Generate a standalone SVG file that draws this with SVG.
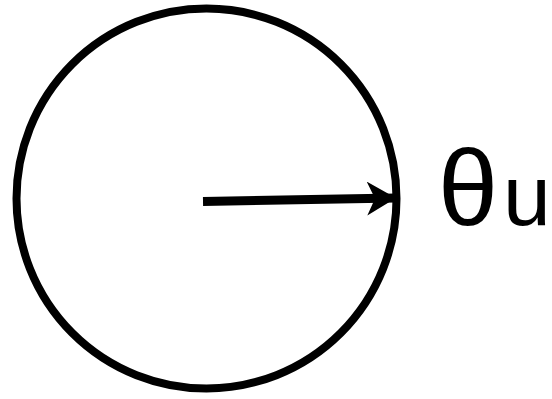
<svg xmlns="http://www.w3.org/2000/svg" width="552" height="399" viewBox="0 0 552 399">
<style>
.shape{fill:none;stroke:#000;stroke-width:8}
.lbl{font-family:"Liberation Sans",Arial,sans-serif;fill:#000}
</style>
<defs>
<marker id="ah" markerUnits="userSpaceOnUse" markerWidth="32" markerHeight="36" refX="29" refY="17" orient="auto" viewBox="0 0 32 36">
<path d="M0,0 L29,17 L0,34 L8,17 Z" fill="#000"/>
</marker>
</defs>
<rect width="552" height="399" fill="#fff"/>
<g id="circle">
<circle class="shape" cx="206.5" cy="198.5" r="190"/>
</g>
<g id="connectors">
<line x1="203" y1="201.5" x2="396" y2="198" stroke="#000" stroke-width="9" marker-end="url(#ah)"/>
</g>
<g id="label">
<text class="lbl" x="438" y="225" font-size="108">θ<tspan dx="5" font-size="86">u</tspan></text>
</g>
</svg>
